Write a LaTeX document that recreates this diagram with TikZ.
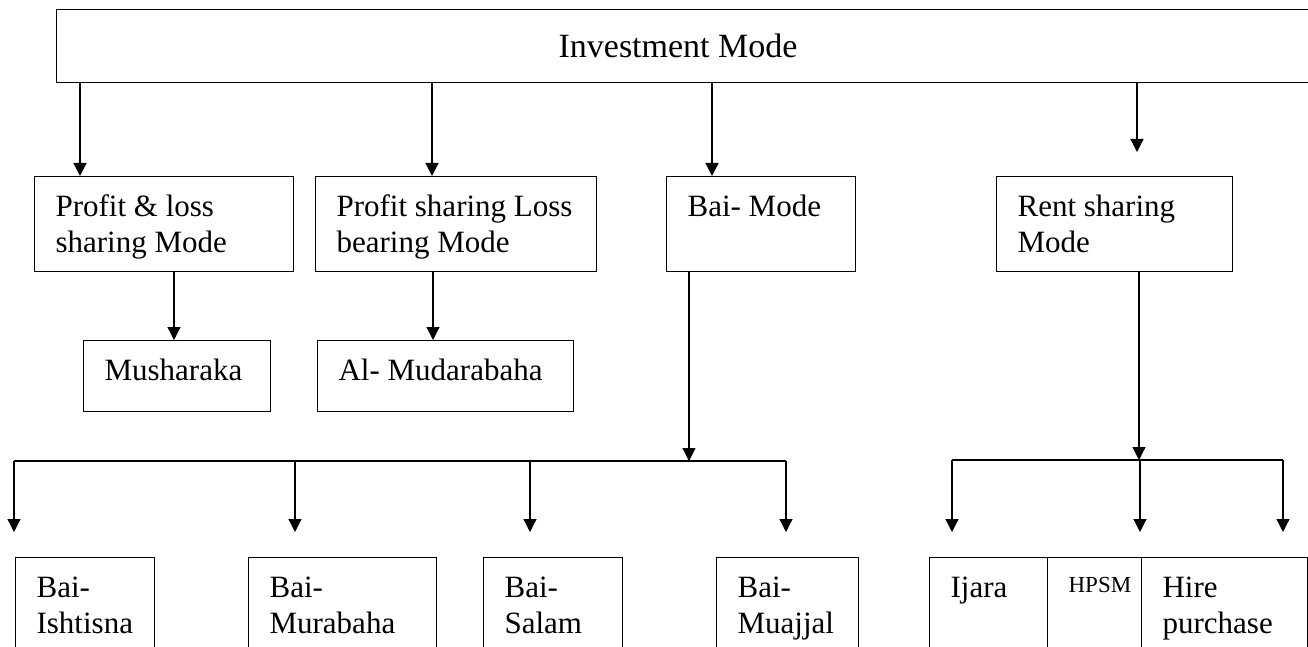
\documentclass[tikz,border=0pt]{standalone}
\usepackage{fontspec}
\setmainfont{Liberation Serif}
\usetikzlibrary{arrows.meta, calc}

% text of a box: top-left aligned, first baseline at a fixed depth
\newcommand{\boxtxt}[3]{\parbox[c][#2][t]{#1}{\raggedright\leftskip=10.5pt\rule{0pt}{19.75pt}#3}}

\begin{document}
\begin{tikzpicture}[x=0.5pt, y=-0.5pt, >={Triangle[length=6.5pt, width=6.5pt]},
    modebox/.style={draw, line width=0.6pt, anchor=north west, inner sep=0pt, font=\fontsize{15.5}{18.25}\selectfont},
    link/.style={line width=0.6pt}]
    \useasboundingbox (0,0) rectangle (1308,647);
    \clip (0,0) rectangle (1308,647);

    \node[modebox, font=\fontsize{17}{20}\selectfont] (inv) at (56,9) {\parbox[c][36.5pt][c]{642pt}{\hspace*{251pt}Investment Mode}};

    % second level
    \node[modebox] (pl)   at (34,176)  {\boxtxt{129.5pt}{47.5pt}{Profit \& loss\\sharing Mode}};
    \node[modebox] (pslb) at (315,176) {\boxtxt{140.5pt}{47.5pt}{Profit sharing Loss\\bearing Mode}};
    \node[modebox] (bai)  at (666,176) {\boxtxt{94.5pt}{47.5pt}{Bai- Mode}};
    \node[modebox] (rent) at (996,176) {\boxtxt{118pt}{47.5pt}{Rent sharing\\Mode}};

    \node[modebox] (mush) at (83,340)  {\boxtxt{93.5pt}{35.5pt}{Musharaka}};
    \node[modebox] (muda) at (317,340) {\boxtxt{128pt}{35.5pt}{Al- Mudarabaha}};

    % bottom level, cut by the page edge
    \node[modebox] (ish)   at (15,557)   {\boxtxt{69.5pt}{60pt}{Bai-\\Ishtisna}};
    \node[modebox] (mura)  at (248,557)  {\boxtxt{94pt}{60pt}{Bai-\\Murabaha}};
    \node[modebox] (salam) at (483,557)  {\boxtxt{69.5pt}{60pt}{Bai-\\Salam}};
    \node[modebox] (muaj)  at (716,557)  {\boxtxt{71pt}{60pt}{Bai-\\Muajjal}};
    \node[modebox] (ijara) at (929,557)  {\boxtxt{59pt}{60pt}{Ijara}};
    \node[modebox] (hpsm)  at (1047,557) {\boxtxt{47pt}{60pt}{\raisebox{2.25pt}{\fontsize{11.5}{13}\selectfont HPSM}}};
    \node[modebox] (hire)  at (1141,557) {\boxtxt{83pt}{60pt}{Hire\\purchase}};

    \coordinate (c1) at (80,0);
    \coordinate (c2) at (432,0);
    \coordinate (c3) at (712,0);
    \coordinate (c4) at (1137,0);
    \draw[link, ->] (inv.south -| c1) -- (pl.north -| c1);
    \draw[link, ->] (inv.south -| c2) -- (pslb.north -| c2);
    \draw[link, ->] (inv.south -| c3) -- (bai.north -| c3);
    \draw[link, ->] (inv.south -| c4) -- ($(rent.north -| c4)+(0,-24)$);

    \coordinate (d1) at (174,0);
    \coordinate (d2) at (433,0);
    \draw[link, ->] (pl.south -| d1) -- (mush.north -| d1);
    \draw[link, ->] (pslb.south -| d2) -- (muda.north -| d2);

    % Bai branch
    \coordinate (bj) at (689,461);
    \coordinate (e1) at (14,461);
    \coordinate (e2) at (295,461);
    \coordinate (e3) at (530,461);
    \coordinate (e4) at (786,461);
    \draw[link, ->] (bai.south -| bj) -- (bj);
    \draw[link] (e1) -- (e4);
    \foreach \xa/\bx in {e1/ish, e2/mura, e3/salam, e4/muaj}
        \draw[link, ->] (\xa) -- ($(\bx.north -| \xa)+(0,-25)$);

    % Rent branch
    \coordinate (rj) at (1139,460);
    \coordinate (f1) at (952,460);
    \coordinate (f2) at (1140,460);
    \coordinate (f3) at (1283,460);
    \draw[link, ->] (rent.south -| rj) -- (rj);
    \draw[link] (f1) -- (f3);
    \foreach \xa/\bx in {f1/ijara, f2/hpsm, f3/hire}
        \draw[link, ->] (\xa) -- ($(\bx.north -| \xa)+(0,-25)$);
\end{tikzpicture}
\end{document}
